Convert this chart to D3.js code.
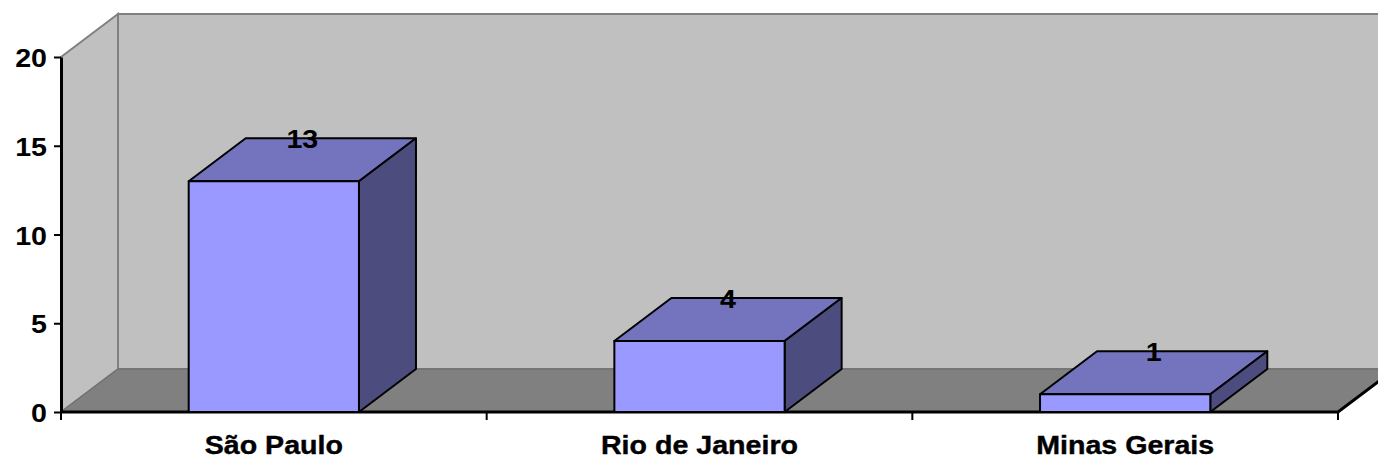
<!DOCTYPE html>
<html>
<head>
<meta charset="utf-8">
<script src="https://cdn.jsdelivr.net/npm/d3@7"></script>
<style>
  body { margin: 0; background: #fff; }
  svg { display: block; font-family: "Liberation Sans", Arial, sans-serif; }
  .lbl { font-weight: bold; fill: #000; }
</style>
</head>
<body>
<svg id="chart"></svg>
<script>
// Chart data.
const categories = ['São Paulo', 'Rio de Janeiro', 'Minas Gerais'];
const values = [13, 4, 1];
const yTicks = [0, 5, 10, 15, 20];

// Dimensions and 3D depth offset.
const width = 1378, height = 461;
const marginLeft = 61, marginRight = 40, marginTop = 57, marginBottom = 49;
const depthX = 57, depthY = -43;
const fontSize = 26;
const stretch = 1.1; // Excel text looks horizontally stretched

const svg = d3.select('#chart').attr('width', width).attr('height', height);

const x = d3.scaleBand()
    .domain(categories)
    .range([marginLeft, width - marginRight])
    .paddingInner(0.6)
    .paddingOuter(0.3);

const y = d3.scaleLinear()
    .domain([0, 20])
    .range([height - marginBottom, marginTop]);

const x0 = marginLeft, x1 = width - marginRight;
const yb = y(0), yt = y(20);
const poly = pts => 'M' + pts.map(p => p.join(',')).join('L') + 'Z';

// Walls and floor.
svg.append('path')
    .attr('d', poly([[x0 + depthX, yt + depthY], [x1 + depthX, yt + depthY], [x1 + depthX, yb + depthY], [x0 + depthX, yb + depthY]]))
    .attr('fill', '#c0c0c0').attr('stroke', '#808080').attr('stroke-width', 2);
svg.append('path')
    .attr('d', poly([[x0, yt], [x0 + depthX, yt + depthY], [x0 + depthX, yb + depthY], [x0, yb]]))
    .attr('fill', '#c0c0c0').attr('stroke', '#808080').attr('stroke-width', 2);
svg.append('path')
    .attr('d', poly([[x0, yb], [x0 + depthX, yb + depthY], [x1 + depthX, yb + depthY], [x1, yb]]))
    .attr('fill', '#808080').attr('stroke', '#6a6a6a').attr('stroke-width', 1);
// Floor front and right edges.
svg.append('path')
    .attr('d', `M${x0},${yb}L${x1},${yb}L${x1 + depthX},${yb + depthY}`)
    .attr('fill', 'none').attr('stroke', '#000').attr('stroke-width', 3);

// Bars.
const bars = svg.append('g').selectAll('g').data(categories).join('g');
bars.each(function (c, i) {
    const g = d3.select(this);
    const bx0 = x(c), bx1 = x(c) + x.bandwidth();
    const by = y(values[i]);
    g.append('path')
        .attr('d', poly([[bx0, by], [bx0 + depthX, by + depthY], [bx1 + depthX, by + depthY], [bx1, by]]))
        .attr('fill', '#7373be');
    g.append('path')
        .attr('d', poly([[bx1, by], [bx1 + depthX, by + depthY], [bx1 + depthX, yb + depthY], [bx1, yb]]))
        .attr('fill', '#4c4c7f');
    g.append('rect')
        .attr('x', bx0).attr('y', by).attr('width', bx1 - bx0).attr('height', yb - by)
        .attr('fill', '#9999ff');
    g.selectAll('path, rect').attr('stroke', '#000').attr('stroke-width', 2).attr('stroke-linejoin', 'round');

    g.append('text')
        .attr('class', 'lbl')
        .attr('transform', `translate(${(bx0 + bx1) / 2 + depthX / 2}, ${by + depthY + 10}) scale(${stretch},1)`)
        .attr('text-anchor', 'middle')
        .attr('font-size', fontSize)
        .text(values[i]);
});

// Y axis.
const yAxis = svg.append('g').attr('transform', `translate(${marginLeft}, 0)`)
    .call(d3.axisLeft(y).tickValues(yTicks).tickSize(7).tickPadding(6).tickSizeOuter(0));
yAxis.select('.domain').attr('stroke', '#000').attr('stroke-width', 3);
yAxis.selectAll('.tick line').attr('stroke', '#000').attr('stroke-width', 2);
yAxis.selectAll('.tick text')
    .attr('class', 'lbl')
    .attr('font-size', fontSize)
    .attr('x', null).attr('dy', null)
    .attr('transform', `translate(-14, 9.5) scale(${stretch},1)`);

// X axis tick marks at band boundaries.
const step = (x1 - x0) / categories.length;
svg.append('g').selectAll('line')
    .data(d3.range(categories.length + 1))
    .join('line')
    .attr('x1', i => x0 + i * step).attr('x2', i => x0 + i * step)
    .attr('y1', yb).attr('y2', yb + 8)
    .attr('stroke', '#000').attr('stroke-width', 2);

// Category labels.
svg.append('g').selectAll('text')
    .data(categories)
    .join('text')
    .attr('class', 'lbl')
    .attr('font-size', fontSize)
    .attr('text-anchor', 'middle')
    .attr('stroke', '#000').attr('stroke-width', 0.4)
    .attr('transform', c => `translate(${x(c) + x.bandwidth() / 2}, ${yb + 42}) scale(${stretch},1)`)
    .text(c => c);
</script>
</body>
</html>
